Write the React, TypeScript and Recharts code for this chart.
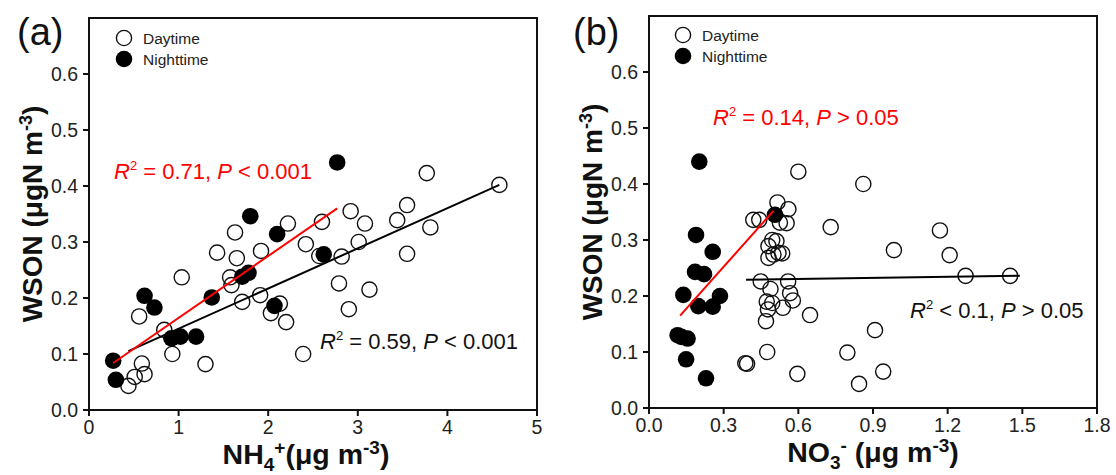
import React from 'react';
import { ScatterChart, Scatter, XAxis, YAxis, ReferenceArea, Legend, Label, Customized } from 'recharts';

const FONT = '"Liberation Sans", Arial, Helvetica, sans-serif';

type Pt = { x: number; y: number };

// tick values
const wsonTicks = [0, 0.1, 0.2, 0.3, 0.4, 0.5, 0.6];
const nh4Ticks = [0, 1, 2, 3, 4, 5];
const no3Ticks = [0, 0.3, 0.6, 0.9, 1.2, 1.5, 1.8];

// (a) WSON vs NH4+
const nh4Day: Pt[] = [
  { x: 4.58, y: 0.402 }, { x: 3.77, y: 0.423 }, { x: 3.55, y: 0.366 }, { x: 3.44, y: 0.339 },
  { x: 3.81, y: 0.326 }, { x: 3.55, y: 0.279 }, { x: 2.92, y: 0.355 }, { x: 3.08, y: 0.333 },
  { x: 3.01, y: 0.3 }, { x: 2.82, y: 0.274 }, { x: 2.79, y: 0.226 }, { x: 3.13, y: 0.215 },
  { x: 2.9, y: 0.18 }, { x: 2.6, y: 0.336 }, { x: 2.42, y: 0.296 }, { x: 2.57, y: 0.275 },
  { x: 2.39, y: 0.1 }, { x: 2.22, y: 0.333 }, { x: 1.92, y: 0.284 }, { x: 1.63, y: 0.317 },
  { x: 1.65, y: 0.271 }, { x: 1.43, y: 0.281 }, { x: 1.035, y: 0.237 }, { x: 1.575, y: 0.237 },
  { x: 1.59, y: 0.223 }, { x: 1.71, y: 0.193 }, { x: 1.91, y: 0.205 }, { x: 2.03, y: 0.173 },
  { x: 2.13, y: 0.19 }, { x: 2.2, y: 0.157 }, { x: 0.84, y: 0.143 }, { x: 0.93, y: 0.1 },
  { x: 1.3, y: 0.082 }, { x: 0.56, y: 0.167 }, { x: 0.59, y: 0.083 }, { x: 0.51, y: 0.059 },
  { x: 0.62, y: 0.064 }, { x: 0.44, y: 0.043 },
];
const nh4Night: Pt[] = [
  { x: 2.77, y: 0.442 }, { x: 1.8, y: 0.346 }, { x: 2.1, y: 0.314 }, { x: 2.62, y: 0.278 },
  { x: 1.71, y: 0.238 }, { x: 1.78, y: 0.245 }, { x: 0.62, y: 0.204 }, { x: 0.73, y: 0.183 },
  { x: 1.37, y: 0.201 }, { x: 2.07, y: 0.186 }, { x: 0.92, y: 0.128 }, { x: 1.02, y: 0.131 },
  { x: 1.195, y: 0.131 }, { x: 0.27, y: 0.088 }, { x: 0.3, y: 0.054 },
];
const nh4FitAll: Pt[] = [{ x: 0.44, y: 0.105 }, { x: 4.58, y: 0.402 }];
const nh4FitNight: Pt[] = [{ x: 0.27, y: 0.084 }, { x: 2.77, y: 0.36 }];

// (b) WSON vs NO3-
const no3Day: Pt[] = [
  { x: 0.6, y: 0.422 }, { x: 0.861, y: 0.4 }, { x: 0.516, y: 0.367 }, { x: 0.56, y: 0.355 },
  { x: 0.419, y: 0.336 }, { x: 0.443, y: 0.336 }, { x: 0.526, y: 0.331 }, { x: 0.553, y: 0.33 },
  { x: 0.73, y: 0.323 }, { x: 1.169, y: 0.317 }, { x: 0.495, y: 0.3 }, { x: 0.512, y: 0.298 },
  { x: 0.48, y: 0.289 }, { x: 0.48, y: 0.268 }, { x: 0.5, y: 0.274 }, { x: 0.52, y: 0.277 },
  { x: 0.535, y: 0.276 }, { x: 0.984, y: 0.282 }, { x: 1.208, y: 0.273 }, { x: 1.272, y: 0.236 },
  { x: 1.451, y: 0.236 }, { x: 0.449, y: 0.226 }, { x: 0.559, y: 0.226 }, { x: 0.488, y: 0.2125 },
  { x: 0.567, y: 0.205 }, { x: 0.578, y: 0.192 }, { x: 0.473, y: 0.19 }, { x: 0.495, y: 0.1875 },
  { x: 0.478, y: 0.176 }, { x: 0.538, y: 0.179 }, { x: 0.47, y: 0.155 }, { x: 0.647, y: 0.166 },
  { x: 0.908, y: 0.139 }, { x: 0.475, y: 0.1 }, { x: 0.797, y: 0.099 }, { x: 0.387, y: 0.08 },
  { x: 0.394, y: 0.079 }, { x: 0.596, y: 0.061 }, { x: 0.941, y: 0.065 }, { x: 0.844, y: 0.043 },
];
const no3Night: Pt[] = [
  { x: 0.202, y: 0.44 }, { x: 0.506, y: 0.345 }, { x: 0.189, y: 0.309 }, { x: 0.256, y: 0.279 },
  { x: 0.185, y: 0.243 }, { x: 0.221, y: 0.239 }, { x: 0.138, y: 0.202 }, { x: 0.285, y: 0.2 },
  { x: 0.198, y: 0.182 }, { x: 0.256, y: 0.181 }, { x: 0.115, y: 0.13 }, { x: 0.13, y: 0.127 },
  { x: 0.155, y: 0.124 }, { x: 0.149, y: 0.087 }, { x: 0.229, y: 0.053 },
];
const no3FitAll: Pt[] = [{ x: 0.39, y: 0.229 }, { x: 1.49, y: 0.236 }];
const no3FitNight: Pt[] = [{ x: 0.125, y: 0.165 }, { x: 0.5, y: 0.352 }];

const openDot = (p: any) => <circle cx={p.cx} cy={p.cy} r={7.6} fill="none" stroke="#111" strokeWidth={1.4} />;
const filledDot = (p: any) => <circle cx={p.cx} cy={p.cy} r={8.3} fill="#000" />;
const noDot = () => <g />;

const renderLegend = (props: any) => {
  const items = (props.payload || []).filter((e: any) => e.value === 'Daytime' || e.value === 'Nighttime');
  return (
    <svg width={130} height={46} style={{ display: 'block', overflow: 'visible' }}>
      {items.map((e: any, i: number) => {
        const day = e.value === 'Daytime';
        return (
          <g key={e.value}>
            <circle cx={9} cy={9 + i * 21} r={day ? 7.6 : 8.3} fill={day ? 'none' : '#000'} stroke={day ? '#111' : 'none'} strokeWidth={1.4} />
            <text x={28} y={15 + i * 21} fontSize={15.5} fontFamily={FONT} fill="#222">{e.value}</text>
          </g>
        );
      })}
    </svg>
  );
};

const Stat = ({ x, y, color, r2, p }: { x: number; y: number; color: string; r2: string; p: string }) => (
  <text x={x} y={y} fontSize={22} fontFamily={FONT} fill={color} style={{ whiteSpace: 'pre' }}>
    <tspan fontStyle="italic">R</tspan>
    <tspan fontSize={13} dy={-9}>2</tspan>
    <tspan dy={9}>{r2}</tspan>
    <tspan fontStyle="italic">P</tspan>
    <tspan>{p}</tspan>
  </text>
);

const yTitle = (lp: any) => {
  const vb = lp.viewBox || { x: 0, y: 0, width: 0, height: 0 };
  const cx = vb.x + vb.width - 57;
  const cy = vb.y + vb.height / 2;
  return (
    <text x={cx} y={cy + 10} transform={`rotate(-90, ${cx}, ${cy})`} textAnchor="middle"
      fontSize={28} fontWeight="bold" fontFamily={FONT} fill="#111" style={{ whiteSpace: 'pre' }}>
      <tspan>WSON (μgN m</tspan>
      <tspan fontSize={18} dy={-10}>-3</tspan>
      <tspan dy={10}>)</tspan>
    </text>
  );
};

const xTitle = (kind: 'nh4' | 'no3', dx: number) => (lp: any) => {
  const vb = lp.viewBox || { x: 0, y: 0, width: 0, height: 0 };
  const cx = vb.x + vb.width / 2 + dx;
  const y = vb.y + 54;
  return (
    <text x={cx} y={y} textAnchor="middle" fontSize={28.5} fontWeight="bold" fontFamily={FONT} fill="#111" style={{ whiteSpace: 'pre' }}>
      {kind === 'nh4' ? (
        <>
          <tspan>NH</tspan>
          <tspan fontSize={19} dy={7}>4</tspan>
          <tspan fontSize={19} dy={-17}>+</tspan>
          <tspan dy={10}>(μg m</tspan>
          <tspan fontSize={19} dy={-10}>-3</tspan>
          <tspan dy={10}>)</tspan>
        </>
      ) : (
        <>
          <tspan>NO</tspan>
          <tspan fontSize={19} dy={7}>3</tspan>
          <tspan fontSize={19} dy={-17}>-</tspan>
          <tspan dy={10}> (μg m</tspan>
          <tspan fontSize={19} dy={-10}>-3</tspan>
          <tspan dy={10}>)</tspan>
        </>
      )}
    </text>
  );
};

type PanelProps = {
  left: number;
  width: number;
  margin: { top: number; right: number; bottom: number; left: number };
  xMax: number;
  xTicks: number[];
  xFmt: (v: number) => string;
  day: Pt[];
  night: Pt[];
  fitAll: Pt[];
  fitNight: Pt[];
  kind: 'nh4' | 'no3';
  titleDx: number;
  tag: string;
  legendPos: { left: number; top: number };
  stats: { x: number; y: number; color: string; r2: string; p: string }[];
};

const tickStyle = { fill: '#222', fontSize: 19.5, fontFamily: FONT };

function Panel(props: PanelProps) {
  const { margin, xMax } = props;
  return (
    <div style={{ position: 'absolute', left: props.left, top: 0 }}>
      <ScatterChart width={props.width} height={475} margin={margin}>
        <XAxis type="number" dataKey="x" domain={[0, xMax]} ticks={props.xTicks} allowDataOverflow
          tickFormatter={props.xFmt} height={30} tickSize={6} tickMargin={4} tick={tickStyle}
          axisLine={{ stroke: '#111', strokeWidth: 2 }} tickLine={{ stroke: '#111', strokeWidth: 2 }}>
          <Label content={xTitle(props.kind, props.titleDx)} />
        </XAxis>
        <YAxis type="number" dataKey="y" domain={[0, 0.7]} ticks={wsonTicks} allowDataOverflow
          tickFormatter={(v: number) => v.toFixed(1)} width={60} tickSize={6} tickMargin={5} tick={tickStyle}
          axisLine={{ stroke: '#111', strokeWidth: 2 }} tickLine={{ stroke: '#111', strokeWidth: 2 }}>
          <Label content={yTitle} />
        </YAxis>
        <ReferenceArea x1={0} x2={xMax} y1={0} y2={0.7} fill="none" stroke="#111" strokeWidth={2} />
        <Scatter name="Daytime" data={props.day} shape={openDot} isAnimationActive={false} />
        <Scatter name="Nighttime" data={props.night} shape={filledDot} isAnimationActive={false} />
        <Scatter name="fit-all" legendType="none" data={props.fitAll} shape={noDot}
          line={{ stroke: '#000', strokeWidth: 2 }} isAnimationActive={false} />
        <Scatter name="fit-night" legendType="none" data={props.fitNight} shape={noDot}
          line={{ stroke: '#ff0000', strokeWidth: 2 }} isAnimationActive={false} />
        <Legend layout="vertical" align="center" verticalAlign="middle" content={renderLegend}
          wrapperStyle={{ left: props.legendPos.left, top: props.legendPos.top, width: 130, height: 46 }} />
        <Customized component={() => (
          <g>
            <text x={17} y={45} fontSize={38} fontFamily={FONT} fill="#111">{props.tag}</text>
            {props.stats.map((s, i) => <Stat key={i} {...s} />)}
          </g>
        )} />
      </ScatterChart>
    </div>
  );
}

export default function App() {
  return (
    <div style={{ position: 'absolute', left: 0, top: 0, width: 1116, height: 475, background: '#fff' }}>
      <Panel left={0} width={556} margin={{ top: 18, right: 19, bottom: 35, left: 29 }}
        xMax={5} xTicks={nh4Ticks} xFmt={(v) => String(v)}
        day={nh4Day} night={nh4Night} fitAll={nh4FitAll} fitNight={nh4FitNight}
        kind="nh4" titleDx={-7} tag="(a)" legendPos={{ left: 115, top: 29 }}
        stats={[
          { x: 114, y: 179, color: '#ff0000', r2: ' = 0.71, ', p: ' < 0.001' },
          { x: 320, y: 349, color: '#111', r2: ' = 0.59, ', p: ' < 0.001' },
        ]} />
      <Panel left={556} width={560} margin={{ top: 16, right: 19, bottom: 37, left: 33 }}
        xMax={1.8} xTicks={no3Ticks} xFmt={(v) => v.toFixed(1)}
        day={no3Day} night={no3Night} fitAll={no3FitAll} fitNight={no3FitNight}
        kind="no3" titleDx={0} tag="(b)" legendPos={{ left: 118, top: 26 }}
        stats={[
          { x: 157, y: 125, color: '#ff0000', r2: ' = 0.14, ', p: ' > 0.05' },
          { x: 354, y: 318, color: '#111', r2: ' < 0.1, ', p: ' > 0.05' },
        ]} />
    </div>
  );
}
